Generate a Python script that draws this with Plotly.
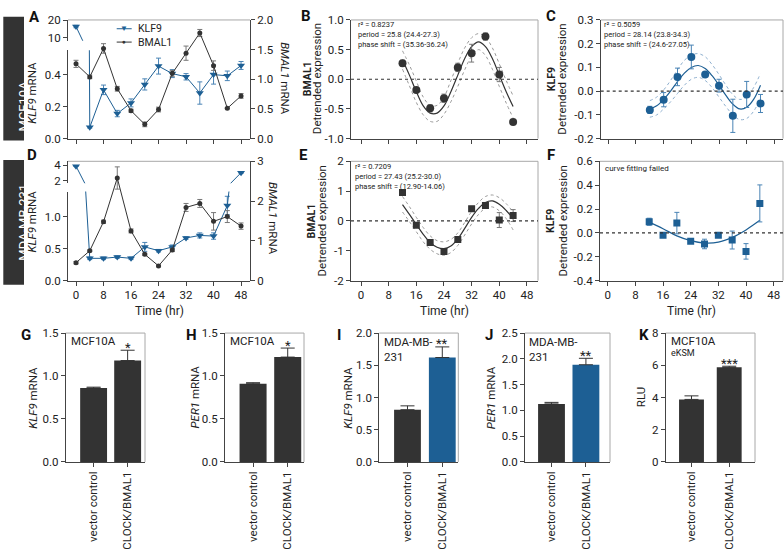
import plotly.graph_objects as go

W, H = 784, 554
def PX(x): return x / W
def PY(y): return 1 - y / H

BLUE = "#1d5f94"
BLUE_ERR = "#4a84b5"
DARK = "#333333"
GREY_ERR = "#777777"
BAND_GREY = "#9a9a9a"
BAND_BLUE = "#8fb0cf"
AXIS = "#444444"
FRAME = "#a8a8a8"
FONT = "Roboto"
TXT = "#222222"

# ---------------- data ----------------
time_full = [0, 4, 8, 12, 16, 20, 24, 28, 32, 36, 40, 44, 48]
time_ticks = [0, 8, 16, 24, 32, 40, 48]

# Panel A (MCF10A)
a_klf9 = [16.4, 0.071, 0.306, 0.157, 0.224, 0.34, 0.455, 0.408, 0.388, 0.286, 0.402, 0.394, 0.459]
a_klf9_err = [0.7, 0.005, 0.03, 0.02, 0.025, 0.035, 0.05, 0.025, 0.02, 0.07, 0.06, 0.03, 0.025]
a_bmal1 = [1.26, 1.04, 1.52, 0.84, 0.47, 0.24, 0.49, 1.10, 1.44, 1.78, 1.23, 0.51, 0.72]
a_bmal1_err = [0.06, 0.03, 0.08, 0.04, 0.025, 0.04, 0.04, 0.05, 0.12, 0.06, 0.08, 0.01, 0.04]

# Panel D (MDA-MB-231)
d_klf9 = [3.9, 0.35, 0.35, 0.37, 0.35, 0.53, 0.47, 0.53, 0.67, 0.71, 0.70, 1.18, 3.03]
d_klf9_err = [0.05, 0.02, 0.02, 0.02, 0.02, 0.07, 0.02, 0.03, 0.02, 0.04, 0.05, 0.145, 0.08]
d_bmal1 = [0.45, 0.75, 1.48, 2.58, 1.25, 0.66, 0.37, 0.77, 1.84, 1.94, 1.49, 1.61, 1.37]
d_bmal1_err = [0.03, 0.02, 0.04, 0.28, 0.05, 0.03, 0.02, 0.04, 0.1, 0.1, 0.22, 0.15, 0.08]

# Detrended series
det_t = [12, 16, 20, 24, 28, 32, 36, 40, 44]
b_val = [0.27, -0.18, -0.49, -0.32, 0.20, 0.44, 0.72, 0.08, -0.72]
b_err = [0.05, 0.03, 0.06, 0.07, 0.07, 0.15, 0.06, 0.12, 0.0]
c_val = [-0.079, -0.036, 0.06, 0.144, 0.07, 0.023, -0.104, -0.014, -0.052]
c_err = [0.015, 0.03, 0.037, 0.05, 0.008, 0.027, 0.07, 0.055, 0.038]
e_val = [0.95, -0.14, -0.72, -1.02, -0.62, 0.41, 0.52, 0.03, 0.18]
e_err = [0.02, 0.03, 0.04, 0.04, 0.04, 0.08, 0.1, 0.25, 0.2]
f_val = [0.093, -0.02, 0.082, -0.07, -0.093, -0.02, -0.06, -0.155, 0.247]
f_err = [0.03, 0.008, 0.09, 0.01, 0.04, 0.008, 0.075, 0.065, 0.155]

# Fitted curves
fit_t = [12, 14, 16, 18, 20, 22, 24, 26, 28, 30, 32, 34, 36, 38, 40, 42, 44]
b_fit = [0.33, 0.07, -0.21, -0.45, -0.57, -0.57, -0.45, -0.21, 0.07, 0.35, 0.55, 0.63, 0.55, 0.35, 0.07, -0.21, -0.46]
b_up = [0.48, 0.24, -0.03, -0.30, -0.44, -0.44, -0.30, -0.02, 0.27, 0.53, 0.70, 0.77, 0.71, 0.53, 0.26, -0.02, -0.28]
b_lo = [0.17, -0.11, -0.39, -0.60, -0.71, -0.71, -0.59, -0.38, -0.12, 0.16, 0.39, 0.50, 0.40, 0.17, -0.12, -0.40, -0.65]
c_fit = [-0.075, -0.062, -0.035, 0.0, 0.04, 0.076, 0.100, 0.108, 0.095, 0.065, 0.025, -0.018, -0.055, -0.075, -0.068, -0.035, 0.025]
c_up = [-0.040, -0.025, 0.005, 0.045, 0.090, 0.130, 0.152, 0.158, 0.145, 0.112, 0.070, 0.025, -0.015, -0.035, -0.025, 0.015, 0.075]
c_lo = [-0.110, -0.100, -0.075, -0.045, -0.010, 0.025, 0.050, 0.058, 0.045, 0.015, -0.025, -0.065, -0.100, -0.120, -0.115, -0.085, -0.030]
e_fit = [0.55, 0.22, -0.12, -0.45, -0.72, -0.88, -0.93, -0.84, -0.60, -0.25, 0.12, 0.42, 0.62, 0.67, 0.56, 0.35, 0.08]
e_up = [0.82, 0.48, 0.12, -0.22, -0.50, -0.66, -0.70, -0.62, -0.40, -0.05, 0.32, 0.62, 0.82, 0.87, 0.78, 0.58, 0.30]
e_lo = [0.30, -0.02, -0.36, -0.70, -0.95, -1.10, -1.15, -1.06, -0.82, -0.47, -0.10, 0.22, 0.43, 0.47, 0.34, 0.08, -0.30]
f_fit = [0.09, 0.035, -0.025, -0.065, -0.085, -0.078, -0.038, 0.025, 0.105]

# Bar panels
bar_cats = ["vector control", "CLOCK/BMAL1"]
g_val = [0.86, 1.18]; g_err = [0.01, 0.12]
h_val = [0.91, 1.22]; h_err = [0.012, 0.105]
i_val = [0.81, 1.62]; i_err = [0.06, 0.165]
j_val = [1.125, 1.885]; j_err = [0.03, 0.125]
k_val = [3.88, 5.87]; k_err = [0.22, 0.07]

# ---------------- figure ----------------
fig = go.Figure()
tickfont = dict(family=FONT, size=11.5, color=TXT)
common = dict(showline=True, linecolor=AXIS, linewidth=1, ticks="outside", ticklen=4,
              tickwidth=1, tickcolor=AXIS, showgrid=False, zeroline=False,
              tickfont=tickfont, fixedrange=True)

def fmt(vals, nd):
    return [("%." + str(nd) + "f") % v if nd > 0 else "%d" % v for v in vals]

def ax(domain, rng, anchor, tickvals, ticktext=None, **kw):
    d = dict(common)
    d.update(domain=domain, range=rng, anchor=anchor, tickvals=tickvals,
             ticktext=ticktext if ticktext is not None else [str(v) for v in tickvals])
    d.update(kw)
    return d

L = {}
# Panel A
L["xaxis"] = ax([PX(68), PX(250)], [-2.33, 50.6], "y", time_ticks, showticklabels=False)
L["yaxis"] = ax([PY(135), PY(44.3)], [0, 0.555], "x", [0, 0.2, 0.4], fmt([0, 0.2, 0.4], 1))
L["yaxis2"] = ax([PY(34.5), PY(13.3)], [8.46, 20.1], "x", [10, 20])
L["yaxis3"] = ax([PY(135), PY(13.3)], [0, 2.0], "x", [0, 0.5, 1, 1.5, 2], fmt([0, 0.5, 1, 1.5, 2], 1), side="right")
# Panel B
L["xaxis2"] = ax([PX(351), PX(538)], [-2.9, 51.2], "y4", time_ticks, showticklabels=False)
L["yaxis4"] = ax([PY(135), PY(13.3)], [-1, 1], "x2", [-1, -0.5, 0, 0.5, 1], ["-1.0", "-0.5", "0.0", "0.5", "1.0"])
# Panel C
L["xaxis3"] = ax([PX(600.7), PX(783)], [-2.2, 50.5], "y5", time_ticks, showticklabels=False)
L["yaxis5"] = ax([PY(135), PY(13.3)], [-0.2, 0.3], "x3", [-0.2, -0.1, 0, 0.1, 0.2, 0.3], ["-0.2", "-0.1", "0.0", "0.1", "0.2", "0.3"])
# Panel D
L["xaxis4"] = ax([PX(68), PX(250)], [-2.33, 50.6], "y6", time_ticks)
L["yaxis6"] = ax([PY(280.7), PY(189.3)], [0, 1.40], "x4", [0, 0.5, 1.0], fmt([0, 0.5, 1.0], 1))
L["yaxis7"] = ax([PY(180.7), PY(158.3)], [1.65, 4.54], "x4", [2, 4])
L["yaxis8"] = ax([PY(280.7), PY(158.3)], [0, 3], "x4", [0, 1, 2, 3], side="right")
# Panel E
L["xaxis5"] = ax([PX(351), PX(538)], [-2.9, 51.2], "y9", time_ticks)
L["yaxis9"] = ax([PY(280.7), PY(158.3)], [-2, 2], "x5", [-2, -1, 0, 1, 2], ["-2", "-1", "0", "1", "2"])
# Panel F
L["xaxis6"] = ax([PX(600), PX(783)], [-2.23, 50.7], "y10", time_ticks)
L["yaxis10"] = ax([PY(280.7), PY(158.3)], [-0.4, 0.6], "x6", [-0.4, -0.2, 0, 0.2, 0.4, 0.6], ["-0.4", "-0.2", "0.0", "0.2", "0.4", "0.6"])

bar_panels = [
    (7, 11, 65.7, 145, [-0.82, 1.51], 0.79, [0, 1.5], [0, 0.5, 1.0, 1.5], 1, g_val, g_err, [DARK, DARK]),
    (8, 12, 225, 304, [-0.81, 1.47], 0.78, [0, 1.5], [0, 0.5, 1.0, 1.5], 1, h_val, h_err, [DARK, DARK]),
    (9, 13, 379.3, 458.3, [-0.81, 1.46], 0.77, [0, 2.0], [0, 0.5, 1.0, 1.5, 2.0], 1, i_val, i_err, [DARK, BLUE]),
    (10, 14, 525, 610, [-0.77, 1.70], 0.78, [0, 2.5], [0, 0.5, 1.0, 1.5, 2.0, 2.5], 1, j_val, j_err, [DARK, BLUE]),
    (11, 15, 665.7, 755, [-0.684, 1.684], 0.66, [0, 8], [0, 2, 4, 6, 8], 0, k_val, k_err, [DARK, DARK]),
]
BAR_TOP, BAR_BOT = 334.5, 466.7
for xi, yi, x0, x1, xr, bw, yr, yt, nd, vals, errs, cols in bar_panels:
    L["xaxis%d" % xi] = ax([PX(x0), PX(x1)], xr, "y%d" % yi, [0, 1], bar_cats,
                           tickangle=-90, tickfont=dict(family=FONT, size=11.5, color=TXT))
    L["yaxis%d" % yi] = ax([PY(BAR_BOT), PY(BAR_TOP)], yr, "x%d" % xi, yt, fmt(yt, nd))
    fig.add_trace(go.Bar(x=[0, 1], y=vals, width=bw, marker=dict(color=cols, line=dict(width=0)),
                         error_y=dict(type="data", symmetric=False, array=errs, arrayminus=[0, 0],
                                      color=DARK, thickness=1, width=7),
                         xaxis="x%d" % xi, yaxis="y%d" % yi, showlegend=False, hoverinfo="skip"))

def err(arr, color):
    return dict(type="data", array=arr, color=color, thickness=1, width=2.5)

# Panel A traces (KLF9 on broken axis: lower and upper segments)
for ya in ["y", "y2"]:
    fig.add_trace(go.Scatter(x=time_full, y=a_klf9, xaxis="x", yaxis=ya, mode="lines+markers",
                             line=dict(color=BLUE, width=1), marker=dict(symbol="triangle-down", size=7, color=BLUE),
                             error_y=err(a_klf9_err, BLUE_ERR), showlegend=False))
fig.add_trace(go.Scatter(x=time_full, y=a_bmal1, xaxis="x", yaxis="y3", mode="lines+markers",
                         line=dict(color=DARK, width=1), marker=dict(symbol="circle", size=5, color=DARK),
                         error_y=err(a_bmal1_err, GREY_ERR), showlegend=False))
# Panel D traces
for ya in ["y6", "y7"]:
    fig.add_trace(go.Scatter(x=time_full, y=d_klf9, xaxis="x4", yaxis=ya, mode="lines+markers",
                             line=dict(color=BLUE, width=1), marker=dict(symbol="triangle-down", size=7, color=BLUE),
                             error_y=err(d_klf9_err, BLUE_ERR), showlegend=False))
fig.add_trace(go.Scatter(x=time_full, y=d_bmal1, xaxis="x4", yaxis="y8", mode="lines+markers",
                         line=dict(color=DARK, width=1), marker=dict(symbol="circle", size=5, color=DARK),
                         error_y=err(d_bmal1_err, GREY_ERR), showlegend=False))

def det_panel(xa, ya, vals, errs, color, ecolor, symbol, size, fit=None, up=None, lo=None, bandcolor=None, fit_x=None):
    if up is not None:
        for band in (up, lo):
            fig.add_trace(go.Scatter(x=fit_x, y=band, xaxis=xa, yaxis=ya, mode="lines",
                                     line=dict(color=bandcolor, width=1, dash="dot", shape="spline"),
                                     showlegend=False, hoverinfo="skip"))
    if fit is not None:
        fig.add_trace(go.Scatter(x=fit_x, y=fit, xaxis=xa, yaxis=ya, mode="lines",
                                 line=dict(color=color, width=1.2, shape="spline"),
                                 showlegend=False, hoverinfo="skip"))
    fig.add_trace(go.Scatter(x=det_t, y=vals, xaxis=xa, yaxis=ya, mode="markers",
                             marker=dict(symbol=symbol, size=size, color=color),
                             error_y=err(errs, ecolor), showlegend=False))

det_panel("x2", "y4", b_val, b_err, DARK, GREY_ERR, "circle", 8, b_fit, b_up, b_lo, BAND_GREY, fit_t)
det_panel("x3", "y5", c_val, c_err, BLUE, BLUE_ERR, "circle", 8, c_fit, c_up, c_lo, BAND_BLUE, fit_t)
det_panel("x5", "y9", e_val, e_err, DARK, GREY_ERR, "square", 7, e_fit, e_up, e_lo, BAND_GREY, fit_t)
det_panel("x6", "y10", f_val, f_err, BLUE, BLUE_ERR, "square", 7, f_fit, None, None, None, det_t)

shapes = []
ann = []

def frame(x0, x1, top, bot, right=True):
    shapes.append(dict(type="line", xref="paper", yref="paper", x0=PX(x0), x1=PX(x1), y0=PY(top), y1=PY(top),
                       line=dict(color=FRAME, width=1), layer="below"))
    if right:
        shapes.append(dict(type="line", xref="paper", yref="paper", x0=PX(x1), x1=PX(x1), y0=PY(top), y1=PY(bot),
                           line=dict(color=FRAME, width=1), layer="below"))

frame(68, 250, 13.3, 135, right=False)
frame(68, 250, 158.3, 280.7, right=False)
frame(351, 538, 13.3, 135)
frame(600.7, 783, 13.3, 135)
frame(351, 538, 158.3, 280.7)
frame(600, 783, 158.3, 280.7)
for xi, yi, x0, x1, *_ in bar_panels:
    frame(x0, x1, BAR_TOP, BAR_BOT)

# dotted zero lines
for xa, ya in [("x2", "y4"), ("x3", "y5"), ("x5", "y9"), ("x6", "y10")]:
    shapes.append(dict(type="line", xref=xa + " domain", yref=ya, x0=0, x1=1, y0=0, y1=0,
                       line=dict(color=DARK, width=1.2, dash="dot")))

# side labels
for top, bot, label in [(10, 137, "MCF10A"), (157, 285, "MDA-MB-231")]:
    shapes.append(dict(type="rect", xref="paper", yref="paper", x0=PX(3.3), x1=PX(24), y0=PY(bot), y1=PY(top),
                       fillcolor=DARK, line=dict(width=0), layer="below"))
    ann.append(dict(text=label, x=PX(13.8), y=PY((top + bot) / 2), xref="paper", yref="paper",
                    textangle=-90, showarrow=False, font=dict(family=FONT, size=13, color="white")))

def text(t, x, y, size=11.5, angle=0, xanchor="center", yanchor="middle", color=TXT, **kw):
    ann.append(dict(text=t, x=PX(x), y=PY(y), xref="paper", yref="paper", textangle=angle,
                    xanchor=xanchor, yanchor=yanchor, showarrow=False,
                    font=dict(family=FONT, size=size, color=color), **kw))

# panel letters
for letter, x, y in [("A", 34, 10), ("B", 305.5, 9), ("C", 550.5, 9), ("D", 32, 152), ("E", 303, 152),
                     ("F", 551, 152), ("G", 26, 337), ("H", 191, 337), ("I", 339, 337), ("J", 489, 337),
                     ("K", 644, 337)]:
    text("<b>%s</b>" % letter, x, y, size=15, color="#111111")

# axis titles
text("<i>KLF9</i> mRNA", 32, 88, angle=-90)
text("<i>BMAL1</i> mRNA", 285, 73, angle=90)
text("<i>KLF9</i> mRNA", 32, 220, angle=-90)
text("<i>BMAL1</i> mRNA", 273.5, 217, angle=90)
text("<b>BMAL1</b>", 307, 74, size=10.5, angle=-90)
text("Detrended expression", 317, 74, angle=-90)
text("<b>KLF9</b>", 551, 74, size=10.5, angle=-90)
text("Detrended expression", 562.5, 74, angle=-90)
text("<b>BMAL1</b>", 311.5, 219.5, size=10.5, angle=-90)
text("Detrended expression", 321.5, 219.5, angle=-90)
text("<b>KLF9</b>", 551, 219.5, size=10.5, angle=-90)
text("Detrended expression", 562.5, 219.5, angle=-90)
text("Time (hr)", 159.3, 312.3, size=12)
text("Time (hr)", 444.3, 312, size=12)
text("Time (hr)", 691, 312, size=12)
text("<i>KLF9</i> mRNA", 33.3, 400.6, angle=-90)
text("<i>PER1</i> mRNA", 195, 400.6, angle=-90)
text("<i>KLF9</i> mRNA", 348.3, 400.6, angle=-90)
text("<i>PER1</i> mRNA", 491.7, 400.6, angle=-90)
text("RLU", 641.7, 400.6, angle=-90)

# fit statistics (one block per panel)
for x0, y0, lines in [(356.7, 12.5, ["r² = 0.8237", "period = 25.8 (24.4-27.3)", "phase shift = (35.36-36.24)"]),
                      (602.7, 12.5, ["r² = 0.5059", "period = 28.14 (23.8-34.3)", "phase shift = (24.6-27.05)"]),
                      (354, 158.5, ["r² = 0.7209", "period = 27.43 (25.2-30.0)", "phase shift = (12.90-14.06)"])]:
    text("<br>".join(lines), x0, y0, size=7.5, xanchor="left", yanchor="top", align="left", borderpad=0)
text("curve fitting failed", 602.7, 165.7, size=8, xanchor="left")

# bar inset labels
text("MCF10A", 68.5, 342.5, xanchor="left")
text("MCF10A", 228, 342.5, xanchor="left")
text("MDA-MB-<br>231", 382.5, 335.5, xanchor="left", yanchor="top", align="left", borderpad=0)
text("MDA-MB-<br>231", 528, 335.5, xanchor="left", yanchor="top", align="left", borderpad=0)
text("MCF10A", 668.5, 342.5, xanchor="left")
text("eKSM", 668.5, 355, size=9, xanchor="left")

# significance stars
for xi, yi, vals, errs, stars in [(7, 11, g_val, g_err, "*"), (8, 12, h_val, h_err, "*"),
                                  (9, 13, i_val, i_err, "**"), (10, 14, j_val, j_err, "**"),
                                  (11, 15, k_val, k_err, "***")]:
    ann.append(dict(text=stars, x=1, y=vals[1] + errs[1], xref="x%d" % xi, yref="y%d" % yi,
                    yanchor="middle", yshift=3, showarrow=False, font=dict(family=FONT, size=13, color=TXT)))

# manual legend for panel A (labels as one two-line block)
legend_rows = [(22.3, BLUE, "▼"), (36.0, DARK, "●")]
for yy, col, sym in legend_rows:
    shapes.append(dict(type="line", xref="paper", yref="paper", x0=PX(116.7), x1=PX(131.7), y0=PY(yy), y1=PY(yy),
                       line=dict(color=col, width=1)))
    text(sym, 124.2, yy, size=8 if sym == "▼" else 6.5, color=col, borderpad=0)
text("KLF9<br>BMAL1", 136.7, 29.2, size=10.5, xanchor="left", align="left", borderpad=0)

fig.update_layout(width=W, height=H, autosize=False, margin=dict(l=0, r=0, t=0, b=0),
                  paper_bgcolor="white", plot_bgcolor="rgba(0,0,0,0)", showlegend=False,
                  shapes=shapes, annotations=ann, font=dict(family=FONT, color=TXT), **L)

fig.write_html("out.html", config={"displayModeBar": False, "staticPlot": True},
               post_script="document.body.style.margin='0';document.body.style.overflow='hidden';")
